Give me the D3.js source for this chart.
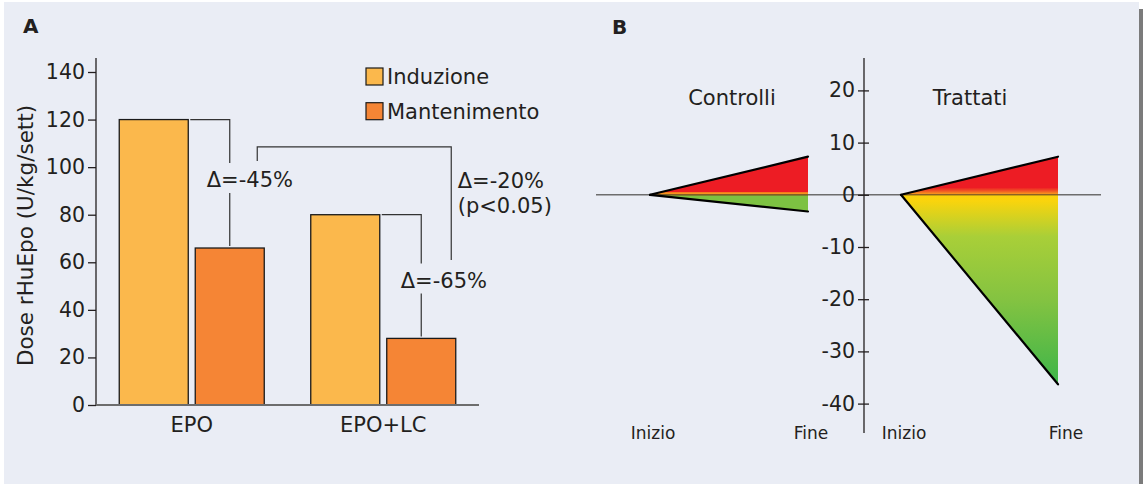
<!DOCTYPE html>
<html>
<head>
<meta charset="utf-8">
<script src="https://cdn.jsdelivr.net/npm/d3@7"></script>
<style>
  html, body { margin: 0; padding: 0; background: #ffffff; }
  svg { display: block; }
  text { font-family: "DejaVu Sans", Verdana, sans-serif; fill: #231f20; }
</style>
</head>
<body>
<svg id="chart" width="1144" height="484"></svg>
<script>
// ---- Panel A: rHuEpo dose by treatment ----
const categories = ["EPO", "EPO+LC"];
const phases = ["Induzione", "Mantenimento"];
const induzione = [120, 80];
const mantenimento = [66, 28];
const deltaLabels = ["\u0394=-45%", "\u0394=-65%"];
const groupDeltaLabel = ["\u0394=-20%", "(p<0.05)"];
const groupBracketLevel = 108.5;
const yTicksA = [0, 20, 40, 60, 80, 100, 120, 140];

// ---- Panel B: change from start to end ----
const timepoints = ["Inizio", "Fine"];
const groups = ["Controlli", "Trattati"];
const upperChange = [[0, 7.3], [0, 7.3]];
const lowerChange = [[0, -3.2], [0, -36.3]];
const yTicksB = [20, 10, 0, -10, -20, -30, -40];

const colors = { Induzione: "#fbb84c", Mantenimento: "#f58535" };

const svg = d3.select("#chart");

// background panel
svg.append("rect").attr("x", 4).attr("y", 2).attr("width", 1135).attr("height", 482).attr("fill", "#eaedf5");
svg.append("rect").attr("x", 1139).attr("y", 9).attr("width", 4).attr("height", 475).attr("fill", "#7b7b7b");

// ================= Panel A =================
const yA = d3.scaleLinear().domain([0, 140]).range([405, 72]);
const xA = d3.scalePoint().domain(categories).range([96, 479]).padding(0.5);
const xSub = d3.scaleBand().domain(phases).range([-72.5, 72.5]).paddingInner(0.092);

const gA = svg.append("g");

gA.append("text").attr("x", 23).attr("y", 33).attr("font-size", 20).attr("font-weight", "bold").text("A");

// y axis
const axA = gA.append("g").attr("transform", "translate(96,0)")
  .call(d3.axisLeft(yA).tickValues(yTicksA).tickSize(8).tickPadding(3).tickFormat(d3.format("d")));
axA.select(".domain").attr("d", `M0,58V${yA(0)}`).attr("stroke", "#231f20").attr("stroke-width", 1.3);
axA.selectAll(".tick line").attr("stroke", "#231f20").attr("stroke-width", 1.3);
axA.selectAll(".tick text").attr("font-size", 20.5).attr("fill", "#231f20")
  .attr("font-family", "DejaVu Sans, Verdana, sans-serif");

gA.append("text")
  .attr("transform", `translate(33,${(yA(0) + 58) / 2 + 4}) rotate(-90)`)
  .attr("text-anchor", "middle").attr("font-size", 21.5)
  .text("Dose rHuEpo (U/kg/sett)");

// bars
const barData = [];
categories.forEach((c, i) => {
  barData.push({ cat: c, phase: "Induzione", value: induzione[i] });
  barData.push({ cat: c, phase: "Mantenimento", value: mantenimento[i] });
});
gA.selectAll("rect.bar").data(barData).join("rect")
  .attr("class", "bar")
  .attr("x", d => xA(d.cat) + xSub(d.phase))
  .attr("y", d => yA(d.value))
  .attr("width", xSub.bandwidth())
  .attr("height", d => yA(0) - yA(d.value))
  .attr("fill", d => colors[d.phase])
  .attr("stroke", "#1a1a1a").attr("stroke-width", 1.3);

// baseline
gA.append("line").attr("x1", 96).attr("x2", 479).attr("y1", yA(0)).attr("y2", yA(0))
  .attr("stroke", "#6d6d6d").attr("stroke-width", 2);

// category labels
gA.selectAll("text.cat").data(categories).join("text")
  .attr("class", "cat").attr("x", d => xA(d)).attr("y", 432)
  .attr("text-anchor", "middle").attr("font-size", 21).text(d => d);

// within-group brackets
const bracketColor = "#333333";
categories.forEach((c, i) => {
  const xInd = xA(c) + xSub("Induzione") + xSub.bandwidth();
  const xMid = xA(c) + xSub("Mantenimento") + xSub.bandwidth() / 2;
  const yTop = yA(induzione[i]);
  const yBot = yA(mantenimento[i]) - 2;
  const labelY = i === 0 ? 187 : 287.5;
  gA.append("path")
    .attr("d", `M${xInd + 2},${yTop}H${xMid}V${labelY - 24}M${xMid},${labelY + 6}V${yBot}`)
    .attr("fill", "none").attr("stroke", bracketColor).attr("stroke-width", 1.2);
  gA.append("text").attr("x", xMid - (i === 0 ? 23 : 20.5)).attr("y", labelY)
    .attr("font-size", 21).text(deltaLabels[i]);
});

// between-group bracket
{
  const xL = xA(categories[0]) + xSub("Mantenimento") + xSub.bandwidth() - 7;
  const xR = xA(categories[1]) + xSub("Mantenimento") + xSub.bandwidth() - 4.5;
  const yT = yA(groupBracketLevel);
  gA.append("path")
    .attr("d", `M${xL},${yA(102.6)}V${yT}H${xR}V${yA(61)}`)
    .attr("fill", "none").attr("stroke", bracketColor).attr("stroke-width", 1.2);
  gA.append("text").attr("x", xR + 6.5).attr("y", 187.5).attr("font-size", 21).text(groupDeltaLabel[0]);
  gA.append("text").attr("x", xR + 6.5).attr("y", 212.5).attr("font-size", 21).text(groupDeltaLabel[1]);
}

// legend
const legend = gA.append("g");
phases.forEach((p, i) => {
  legend.append("rect").attr("x", 366).attr("y", 68 + i * 34.7).attr("width", 17).attr("height", 17)
    .attr("fill", colors[p]).attr("stroke", "#1a1a1a").attr("stroke-width", 1.2);
  legend.append("text").attr("x", 387).attr("y", 84 + i * 34.7).attr("font-size", 21).text(p);
});

// ================= Panel B =================
const yB = d3.scaleLinear().domain([0, 10]).range([194.8, 142.6]);
const xB = [
  d3.scalePoint().domain(timepoints).range([650, 808]),
  d3.scalePoint().domain(timepoints).range([901, 1058])
];

const gB = svg.append("g");
gB.append("text").attr("x", 612).attr("y", 34).attr("font-size", 20).attr("font-weight", "bold").text("B");

const defs = svg.append("defs");
function grad(id, stops) {
  const g = defs.append("linearGradient").attr("id", id).attr("gradientUnits", "userSpaceOnUse")
    .attr("x1", 0).attr("x2", 0).attr("y1", yB(stops[0][0])).attr("y2", yB(stops[stops.length - 1][0]));
  const y0 = yB(stops[0][0]), y1 = yB(stops[stops.length - 1][0]);
  stops.forEach(([v, c]) => g.append("stop").attr("offset", (yB(v) - y0) / (y1 - y0)).attr("stop-color", c));
}
grad("upC", [[7.3, "#ed1c24"], [0.6, "#ed1c24"], [0.4, "#f7941d"], [0, "#f7941d"]]);
grad("loC", [[0, "#8a8a2a"], [-0.3, "#7dc242"], [-3.2, "#7dc242"]]);
grad("upT", [[7.3, "#ed1c24"], [1.4, "#ed1c24"], [0.7, "#f15a24"], [0.2, "#f7941d"], [0, "#f7941d"]]);
grad("loT", [[0, "#fcd20b"], [-1.2, "#f9d40d"], [-8, "#a9cf38"], [-20, "#84c341"], [-36.3, "#3db54a"]]);
const fills = [["url(#upC)", "url(#loC)"], ["url(#upT)", "url(#loT)"]];

// zero line
gB.append("line").attr("x1", 596).attr("x2", 1101).attr("y1", yB(0)).attr("y2", yB(0))
  .attr("stroke", "#6d6d6d").attr("stroke-width", 1.6);

groups.forEach((grp, gi) => {
  const x = xB[gi];
  [upperChange[gi], lowerChange[gi]].forEach((vals, k) => {
    const pts = timepoints.map((t, j) => [x(t), yB(vals[j])]);
    // filled wedge between the zero line and the change line
    const area = d3.area().x(d => d[0]).y0(yB(0)).y1(d => d[1]);
    gB.append("path").attr("d", area(pts)).attr("fill", fills[gi][k]);
  });
});
// zero line over the fills (dark band through the wedges)
groups.forEach((grp, gi) => {
  const x = xB[gi];
  gB.append("line").attr("x1", x("Inizio")).attr("x2", x("Fine")).attr("y1", yB(0)).attr("y2", yB(0))
    .attr("stroke", "#6b4a20").attr("stroke-width", 1.4).attr("opacity", 0.7);
});
// outlines of the slanted edges
groups.forEach((grp, gi) => {
  const x = xB[gi];
  [upperChange[gi], lowerChange[gi]].forEach(vals => {
    const line = d3.line().x(d => d[0]).y(d => d[1]);
    gB.append("path").attr("d", line(timepoints.map((t, j) => [x(t), yB(vals[j])])))
      .attr("fill", "none").attr("stroke", "#000").attr("stroke-width", 2.2).attr("stroke-linecap", "round");
  });
});

// y axis (ticks crossing the axis)
const axB = gB.append("g").attr("transform", "translate(864,0)")
  .call(d3.axisLeft(yB).tickValues(yTicksB).tickSize(6).tickPadding(3).tickFormat(d => String(d)));
axB.select(".domain").attr("d", "M0,58V433").attr("stroke", "#231f20").attr("stroke-width", 1.3);
axB.selectAll(".tick line").attr("x1", 5).attr("x2", -6).attr("stroke", "#231f20").attr("stroke-width", 1.3);
axB.selectAll(".tick text").attr("font-size", 20.5).attr("fill", "#231f20")
  .attr("font-family", "DejaVu Sans, Verdana, sans-serif");

// group titles
gB.append("text").attr("x", 732).attr("y", 104.5).attr("text-anchor", "middle").attr("font-size", 21).text(groups[0]);
gB.append("text").attr("x", 970).attr("y", 104.5).attr("text-anchor", "middle").attr("font-size", 21).text(groups[1]);

// timepoint labels
groups.forEach((grp, gi) => {
  const x = xB[gi];
  gB.selectAll(null).data(timepoints).join("text")
    .attr("x", d => x(d) + (d === "Inizio" ? 3 : 3 + gi * 5))
    .attr("y", 439).attr("text-anchor", "middle").attr("font-size", 17).text(d => d);
});
</script>
</body>
</html>
